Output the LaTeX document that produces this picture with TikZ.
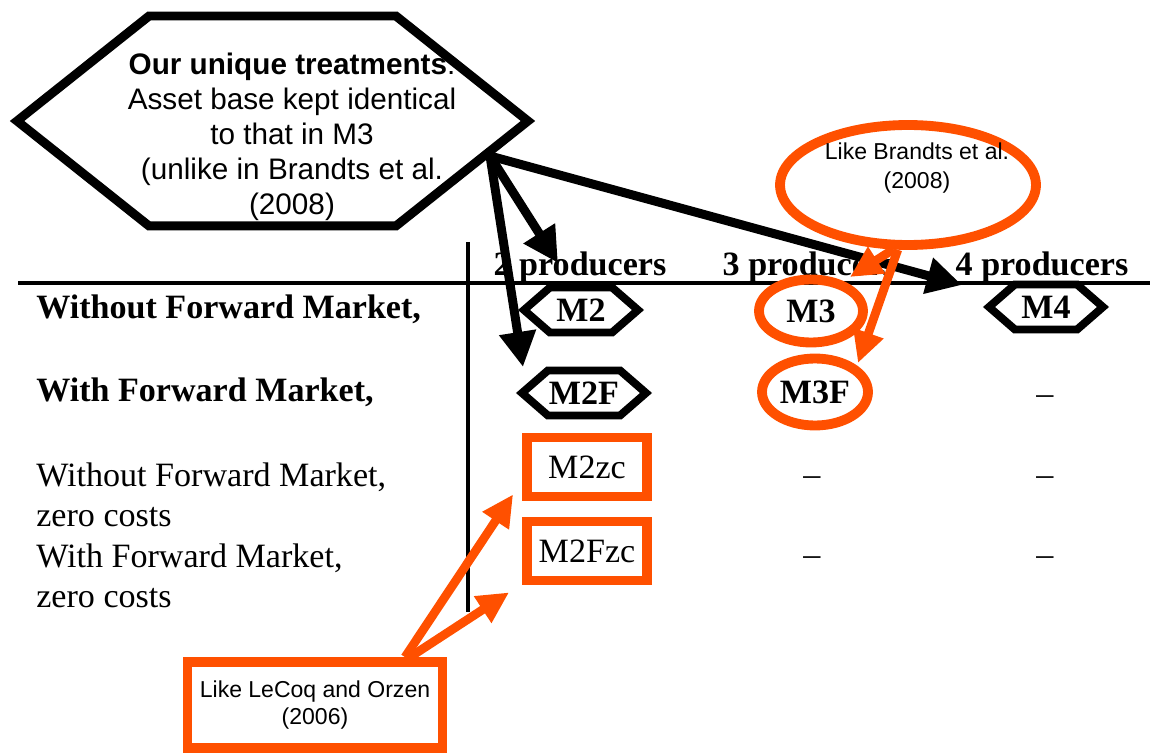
\documentclass[tikz,border=0pt]{standalone}
\usepackage{fontspec}
\setmainfont{Liberation Serif}
\newfontfamily\notefont{Liberation Sans}
\usetikzlibrary{shapes.symbols,shapes.geometric,arrows.meta,calc}
\definecolor{noteorange}{RGB}{255,80,0}
\tikzset{
  bighex/.style={
    shape = signal,
    signal to = west and east,
    signal pointer angle = 77,
    draw,
    line width = 5.1pt,
    inner sep = 0pt,
    minimum width = 10.22cm,
    minimum height = 4.2cm
  },
  smallhex/.style={
    shape = signal,
    signal to = west and east,
    signal pointer angle = 82,
    draw,
    line width = 4.5pt,
    inner sep = 0pt,
    minimum width = 2.28cm,
    minimum height = 0.9cm,
    font = \fontsize{19.4}{22}\selectfont\bfseries
  },
  oval/.style={
    shape = ellipse,
    draw = noteorange,
    line width = 5.6pt,
    inner sep = 0pt,
    font = \fontsize{19.4}{22}\selectfont\bfseries
  },
  zcbox/.style={
    draw = noteorange,
    line width = 5.6pt,
    inner sep = 0pt,
    minimum width = 2.4cm,
    minimum height = 1.18cm,
    font = \fontsize{19.4}{22}\selectfont
  },
  notebox/.style={
    draw = noteorange,
    line width = 5.6pt,
    align = center,
    minimum width = 5.1cm,
    minimum height = 1.72cm,
    font = \notefont\fontsize{13.1}{15.4}\selectfont
  },
  notetext/.style={
    align = center,
    inner sep = 0pt,
    font = \notefont\fontsize{13.1}{16.5}\selectfont
  },
  rowlabel/.style={
    anchor = west,
    align = left,
    inner sep = 0pt,
    font = \fontsize{19.4}{23}\selectfont
  },
  boldrow/.style={
    rowlabel,
    font = \fontsize{19.4}{23}\selectfont\bfseries
  },
  colhead/.style={
    inner sep = 0pt,
    font = \fontsize{19.4}{22}\selectfont\bfseries
  },
  emptycell/.style={
    inner sep = 0pt,
    font = \fontsize{19.4}{22}\selectfont
  },
  tablerule/.style={
    line width = 2.3pt
  },
  bigarrow/.style={
    line width = 5.1pt,
    -{Triangle[length=20pt,width=20pt]}
  },
  notearrow/.style={
    noteorange,
    line width = 5pt,
    -{Triangle[length=18pt,width=17pt]}
  }
}
\begin{document}
\begin{tikzpicture}[x=0.02cm,y=-0.02cm]
  \useasboundingbox (0,0) rectangle (1150,753);
  \node[bighex] (ours) at (272.5,121) {};
  \node[notetext, font=\notefont\fontsize{16.9}{19.9}\selectfont] (ourstext) at (292,137)
    {\textbf{Our unique treatments}:\\Asset base kept identical\\to that in M3\\(unlike in Brandts et al.\\(2008)};
  \node[oval, minimum width=5.12cm, minimum height=2.4cm] (brandts) at (908,185) {};
  \node[notetext] (brandtstext) at (917,168) {Like Brandts et al.\\(2008)};

  \draw[tablerule] (18,283) -- (1150,283);
  \draw[tablerule] (468,242) -- (468,612);

  \node[colhead] (prod2) at (580,267) {2 producers};
  \node[colhead] (prod3) at (809,267) {3 producers};
  \node[colhead] (prod4) at (1042,267) {4 producers};

  \node[boldrow] (rowa) at (36,309) {Without Forward Market,};
  \node[boldrow] (rowb) at (36,392) {With Forward Market,};
  \node[rowlabel] (rowc) at (36,495) {Without Forward Market,\\zero costs};
  \node[rowlabel] (rowd) at (36,576) {With Forward Market,\\zero costs};

  \node[smallhex] (m2) at (581,310) {M2};
  \node[smallhex, minimum width=2.48cm] (m2f) at (584,393) {M2F};
  \node[smallhex] (m4) at (1046,307) {M4};
  \node[oval, minimum width=2.08cm, minimum height=1.26cm] (m3) at (811,311) {M3};
  \node[oval, minimum width=2.12cm, minimum height=1.34cm] (m3f) at (815,392) {M3F};
  \node[zcbox] (m2zc) at (587,467) {M2zc};
  \node[zcbox] (m2fzc) at (587,551) {M2Fzc};

  \node[emptycell] (c3r3) at (812,481) {\textendash};
  \node[emptycell] (c3r4) at (812,561) {\textendash};
  \node[emptycell] (c4r2) at (1045,400) {\textendash};
  \node[emptycell] (c4r3) at (1045,481) {\textendash};
  \node[emptycell] (c4r4) at (1045,561) {\textendash};

  \node[notebox] (lecoq) at (315,705) {Like LeCoq and Orzen\\(2006)};

  \coordinate (fan) at (490,156);
  \draw[bigarrow] (fan) -- ($(prod2)+(-22,-4)$);
  \draw[bigarrow] (fan) -- ($(m2f)+(-61,-26)$);
  \draw[bigarrow] (fan) -- ($(prod4)+(-80,18)$);

  \draw[notearrow] (brandts.257) -- ($(m3)+(39,-34)$);
  \draw[notearrow] (brandts.261) -- ($(m3f)+(43,-29)$);
  \draw[notearrow] ($(lecoq.north)+(90,0)$) -- ($(m2zc.south west)+(-9,-7)$);
  \draw[notearrow] ($(lecoq.north)+(95,0)$) -- ($(m2fzc.south west)+(-13,7)$);
\end{tikzpicture}
\end{document}
